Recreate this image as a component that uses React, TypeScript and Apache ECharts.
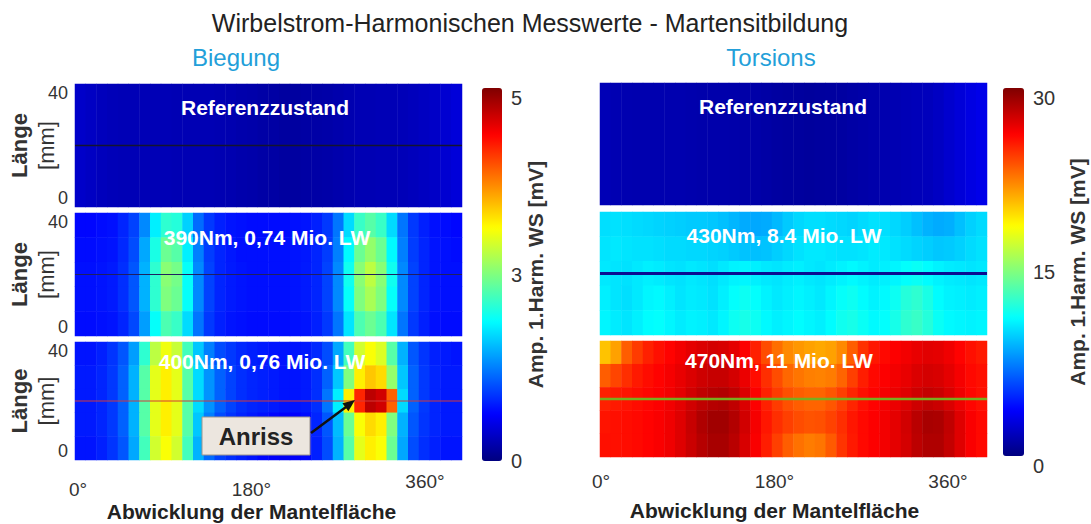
import React, { useEffect, useRef } from 'react';
import * as echarts from 'echarts';

// ---------- data ----------
const ANGLE_CELLS = [5, 15, 25, 35, 45, 55, 65, 75, 85, 95, 105, 115, 125, 135, 145, 155, 165, 175, 185, 195, 205, 215, 225, 235, 245, 255, 265, 275, 285, 295, 305, 315, 325, 335, 345, 355];
const LENGTH_CELLS = [4, 12, 20, 28, 36]; // mm, bottom -> top
const REF_CELLS = [20];
const X_TICKS = [0, 180, 360];

// rows listed top (40 mm) -> bottom (0 mm)
const LEFT_REF = [
  [0.36, 0.33, 0.3, 0.28, 0.27, 0.27, 0.27, 0.27, 0.27, 0.26, 0.26, 0.26, 0.26, 0.25, 0.24, 0.22, 0.21, 0.19, 0.18, 0.16, 0.16, 0.18, 0.19, 0.2, 0.22, 0.24, 0.26, 0.26, 0.27, 0.27, 0.28, 0.3, 0.32, 0.35, 0.4, 0.44],
];
const LEFT_390 = [
  [0.65, 0.65, 0.68, 0.7, 0.8, 0.95, 1.3, 1.8, 2.1, 2.05, 1.65, 1.15, 0.9, 0.78, 0.72, 0.7, 0.68, 0.68, 0.68, 0.68, 0.7, 0.72, 0.78, 0.9, 1.2, 1.7, 2.15, 2.3, 2.15, 1.7, 1.2, 0.9, 0.78, 0.7, 0.68, 0.65],
  [0.68, 0.68, 0.7, 0.72, 0.82, 1.0, 1.45, 2.0, 2.4, 2.3, 1.8, 1.25, 0.92, 0.8, 0.74, 0.7, 0.7, 0.7, 0.7, 0.7, 0.72, 0.74, 0.8, 0.92, 1.25, 1.85, 2.4, 2.6, 2.4, 1.85, 1.25, 0.92, 0.8, 0.72, 0.7, 0.68],
  [0.7, 0.7, 0.72, 0.75, 0.85, 1.05, 1.5, 2.1, 2.55, 2.45, 1.9, 1.3, 0.95, 0.8, 0.75, 0.72, 0.7, 0.7, 0.7, 0.7, 0.72, 0.75, 0.8, 0.95, 1.3, 1.95, 2.55, 2.8, 2.55, 1.95, 1.3, 0.95, 0.8, 0.72, 0.7, 0.7],
  [0.7, 0.7, 0.72, 0.75, 0.85, 1.05, 1.5, 2.1, 2.5, 2.4, 1.9, 1.3, 0.95, 0.8, 0.75, 0.72, 0.7, 0.7, 0.7, 0.7, 0.72, 0.75, 0.8, 0.95, 1.3, 1.9, 2.5, 2.7, 2.5, 1.9, 1.3, 0.95, 0.8, 0.72, 0.7, 0.7],
  [0.68, 0.68, 0.7, 0.72, 0.8, 0.98, 1.4, 1.9, 2.25, 2.15, 1.7, 1.2, 0.9, 0.78, 0.72, 0.7, 0.68, 0.68, 0.68, 0.68, 0.7, 0.72, 0.78, 0.9, 1.2, 1.75, 2.25, 2.4, 2.25, 1.75, 1.2, 0.9, 0.78, 0.7, 0.68, 0.68],
];
const LEFT_400 = [
  [0.72, 0.72, 0.78, 0.88, 1.05, 1.4, 2.1, 2.8, 3.05, 2.85, 2.2, 1.6, 1.25, 1.0, 0.9, 0.82, 0.78, 0.75, 0.72, 0.72, 0.72, 0.75, 0.82, 1.0, 1.45, 2.2, 2.9, 3.1, 2.95, 2.3, 1.5, 1.05, 0.88, 0.78, 0.75, 0.72],
  [0.75, 0.75, 0.8, 0.9, 1.1, 1.5, 2.3, 3.0, 3.2, 3.0, 2.3, 1.7, 1.35, 1.1, 0.95, 0.85, 0.8, 0.78, 0.75, 0.72, 0.72, 0.75, 0.85, 1.1, 1.6, 2.5, 3.2, 3.4, 3.3, 2.6, 1.6, 1.1, 0.9, 0.8, 0.75, 0.75],
  [0.75, 0.75, 0.8, 0.9, 1.1, 1.5, 2.3, 3.0, 3.2, 3.0, 2.3, 1.7, 1.35, 1.1, 0.95, 0.85, 0.8, 0.78, 0.75, 0.72, 0.72, 0.75, 0.85, 1.2, 1.8, 3.2, 4.2, 4.7, 4.6, 3.9, 1.7, 1.1, 0.9, 0.8, 0.75, 0.75],
  [0.75, 0.75, 0.8, 0.9, 1.1, 1.5, 2.3, 3.0, 3.2, 3.0, 2.3, 1.6, 1.25, 1.0, 0.88, 0.8, 0.75, 0.7, 0.65, 0.62, 0.62, 0.68, 0.8, 1.05, 1.55, 2.4, 3.1, 3.3, 3.2, 2.5, 1.5, 1.05, 0.88, 0.8, 0.75, 0.75],
  [0.72, 0.72, 0.78, 0.88, 1.05, 1.45, 2.2, 2.9, 3.1, 2.9, 2.2, 1.5, 1.15, 0.95, 0.85, 0.78, 0.72, 0.65, 0.6, 0.58, 0.6, 0.65, 0.78, 1.0, 1.5, 2.3, 3.0, 3.2, 3.1, 2.4, 1.45, 1.0, 0.85, 0.78, 0.72, 0.72],
];
const RIGHT_REF = [
  [1.6, 1.5, 1.45, 1.4, 1.4, 1.4, 1.4, 1.4, 1.35, 1.3, 1.3, 1.3, 1.25, 1.2, 1.2, 1.1, 1.0, 0.95, 0.9, 0.85, 0.9, 0.95, 1.0, 1.1, 1.2, 1.3, 1.4, 1.5, 1.6, 1.7, 1.8, 2.0, 2.3, 2.6, 2.9, 3.1],
];
const RIGHT_430 = [
  [10.3, 10.4, 10.3, 10.2, 10.1, 10.0, 9.9, 9.8, 9.7, 9.7, 9.6, 9.4, 9.1, 8.8, 8.7, 8.8, 9.2, 9.7, 10.1, 10.3, 10.3, 10.2, 10.1, 10.0, 10.2, 10.4, 10.3, 10.1, 9.8, 9.4, 9.0, 8.8, 8.9, 9.4, 9.9, 10.2],
  [10.5, 10.6, 10.5, 10.4, 10.4, 10.3, 10.2, 10.2, 10.1, 10.1, 10.0, 9.9, 9.7, 9.5, 9.4, 9.5, 9.8, 10.1, 10.4, 10.6, 10.6, 10.5, 10.4, 10.4, 10.5, 10.7, 10.6, 10.4, 10.2, 10.0, 9.8, 9.6, 9.7, 9.9, 10.2, 10.4],
  [10.6, 10.5, 10.4, 10.6, 10.8, 10.7, 10.5, 10.4, 10.6, 10.5, 10.3, 10.6, 10.9, 11.0, 10.8, 10.6, 10.5, 10.7, 10.8, 10.6, 10.5, 10.7, 10.9, 11.1, 10.9, 10.7, 10.8, 11.0, 11.3, 11.5, 11.2, 10.9, 10.7, 10.6, 10.5, 10.6],
  [10.8, 10.5, 10.3, 10.6, 11.0, 11.1, 10.8, 10.5, 10.7, 10.6, 10.4, 10.8, 11.3, 11.6, 11.3, 10.9, 10.6, 10.8, 11.0, 10.8, 10.6, 11.0, 11.4, 11.6, 11.2, 10.9, 11.1, 11.6, 12.3, 12.6, 12.0, 11.2, 10.9, 10.8, 10.7, 10.8],
  [11.0, 10.7, 10.5, 10.8, 11.2, 11.3, 11.0, 10.7, 10.9, 10.8, 10.6, 11.0, 11.6, 11.9, 11.6, 11.1, 10.8, 11.0, 11.2, 11.0, 10.8, 11.2, 11.7, 11.9, 11.5, 11.1, 11.3, 11.9, 12.6, 12.9, 12.3, 11.5, 11.1, 11.0, 10.9, 11.0],
];
const RIGHT_470 = [
  [20.5, 21.5, 23.5, 24.5, 25.3, 25.8, 26.2, 26.6, 27.0, 27.3, 27.5, 27.4, 27.0, 26.3, 25.3, 24.0, 23.0, 22.2, 21.8, 21.5, 21.3, 21.5, 22.2, 23.5, 24.8, 25.6, 26.0, 26.3, 26.6, 26.9, 27.1, 27.0, 26.7, 26.2, 25.8, 25.5],
  [23.5, 24.2, 24.9, 25.5, 25.9, 26.2, 26.5, 26.9, 27.3, 27.7, 27.9, 27.9, 27.5, 26.8, 25.9, 24.9, 24.0, 23.2, 22.8, 22.5, 22.4, 22.6, 23.3, 24.4, 25.4, 26.0, 26.3, 26.6, 26.9, 27.3, 27.5, 27.4, 27.0, 26.5, 26.0, 25.8],
  [25.3, 25.5, 25.7, 25.9, 26.1, 26.3, 26.6, 27.0, 27.6, 28.1, 28.4, 28.5, 28.1, 27.3, 26.3, 25.3, 24.5, 23.9, 23.5, 23.3, 23.3, 23.7, 24.4, 25.2, 25.8, 26.2, 26.5, 26.8, 27.2, 27.7, 28.0, 27.8, 27.3, 26.7, 26.1, 25.8],
  [25.7, 25.8, 25.9, 26.0, 26.2, 26.4, 26.7, 27.2, 27.9, 28.6, 29.0, 29.0, 28.5, 27.6, 26.5, 25.6, 24.9, 24.4, 24.0, 23.8, 23.9, 24.3, 24.9, 25.6, 26.0, 26.3, 26.6, 27.0, 27.6, 28.3, 28.8, 28.7, 28.1, 27.2, 26.4, 26.0],
  [25.8, 25.8, 25.9, 26.0, 26.2, 26.4, 26.7, 27.2, 27.8, 28.4, 28.8, 28.8, 28.3, 27.4, 26.4, 25.4, 24.4, 23.5, 22.9, 22.6, 22.8, 23.6, 24.7, 25.5, 26.0, 26.3, 26.6, 27.0, 27.5, 28.2, 28.6, 28.6, 28.0, 27.2, 26.4, 26.0],
];
const CRACK_LEVEL = [[0, 20], [360, 20]]; // measurement track at 20 mm

const LEFT_RANGE = [0, 5];
const RIGHT_RANGE = [0, 30];

const TITLE = 'Wirbelstrom-Harmonischen Messwerte - Martensitbildung';
const PANEL_LABELS = ['Referenzzustand', '390Nm, 0,74 Mio. LW', '400Nm, 0,76 Mio. LW', 'Referenzzustand', '430Nm, 8.4 Mio. LW', '470Nm, 11 Mio. LW'];

// ---------- style / layout ----------
const F = "'Liberation Sans', Arial, Helvetica, sans-serif";
const JET = ['#00007F', '#0000FF', '#007FFF', '#00FFFF', '#7FFF7F', '#FFFF00', '#FF7F00', '#FF0000', '#7F0000'];

const PANELS = [
  { left: 75, top: 84, width: 387, height: 123, rows: LEFT_REF, ycats: REF_CELLS, side: 'left', line: { color: '#141430', width: 1.5 }, label: { x: 265, y: 107 } },
  { left: 75, top: 213, width: 387, height: 123, rows: LEFT_390, ycats: LENGTH_CELLS, side: 'left', line: { color: '#202060', width: 1 }, label: { x: 267, y: 237 } },
  { left: 75, top: 342, width: 387, height: 118, rows: LEFT_400, ycats: LENGTH_CELLS, side: 'left', line: { color: '#d03a3a', width: 1 }, label: { x: 262, y: 361 } },
  { left: 600, top: 83, width: 387, height: 122, rows: RIGHT_REF, ycats: REF_CELLS, side: 'right', line: null, label: { x: 783, y: 106 } },
  { left: 600, top: 212, width: 387, height: 123, rows: RIGHT_430, ycats: LENGTH_CELLS, side: 'right', line: { color: '#0c0c90', width: 3 }, label: { x: 784, y: 235 } },
  { left: 600, top: 341, width: 387, height: 116, rows: RIGHT_470, ycats: LENGTH_CELLS, side: 'right', line: { color: '#7aae1e', width: 2.5 }, label: { x: 779, y: 360 } },
];

function toCells(rows: number[][]) {
  const out: number[][] = [];
  const n = rows.length;
  rows.forEach((row, r) => row.forEach((v, c) => out.push([c, n - 1 - r, v])));
  return out;
}

function makeGrid(left: number, top: number, width: number, height: number) {
  return { left, top, width, height, show: false, containLabel: false, outerBoundsMode: 'none' };
}

function buildOption() {
  const grid: any[] = [];
  const xAxis: any[] = [];
  const yAxis: any[] = [];
  const series: any[] = [];
  const lines: any[] = [];

  PANELS.forEach((p, g) => {
    grid.push(makeGrid(p.left, p.top, p.width, p.height));
    xAxis.push({ type: 'category', gridIndex: g, data: ANGLE_CELLS.map(String), show: false });
    xAxis.push({ type: 'value', gridIndex: g, min: 0, max: 360, show: false });
    yAxis.push({ type: 'category', gridIndex: g, data: p.ycats.map(String), show: false });
    yAxis.push({
      type: 'value', gridIndex: g, min: 0, max: 40, interval: 40, position: 'left',
      show: p.side === 'left',
      axisLine: { show: false }, axisTick: { show: false }, splitLine: { show: false },
      axisLabel: { fontSize: 18, color: '#333', fontFamily: F, margin: 7, verticalAlignMaxLabel: 'top', verticalAlignMinLabel: 'bottom' },
      name: p.side === 'left' ? '{b|Länge}\n{n|[mm]}' : '',
      nameLocation: 'middle', nameRotate: 90, nameGap: 15, nameMoveOverlap: false,
      nameTextStyle: {
        fontFamily: F, color: '#333', lineHeight: 27,
        rich: {
          b: { fontSize: 22, fontWeight: 'bold', color: '#333', fontFamily: F, lineHeight: 27 },
          n: { fontSize: 22, color: '#333', fontFamily: F, lineHeight: 27 },
        },
      },
    });
    series.push({ type: 'heatmap', xAxisIndex: 2 * g, yAxisIndex: 2 * g, data: toCells(p.rows), silent: true, itemStyle: { borderWidth: 0 } });
    if (p.line) {
      lines.push({
        type: 'line', xAxisIndex: 2 * g + 1, yAxisIndex: 2 * g + 1, data: CRACK_LEVEL, symbol: 'none', silent: true,
        lineStyle: { color: p.line.color, width: p.line.width },
      });
    }
  });

  // colour bars (grids 6, 7)
  const bars = [
    { left: 482, top: 88, width: 20, height: 373, range: LEFT_RANGE, nameGap: 23, minAlign: 'middle' },
    { left: 1003, top: 88, width: 21, height: 368, range: RIGHT_RANGE, nameGap: 43, minAlign: 'top' },
  ];
  bars.forEach((b) => {
    const g = grid.length;
    grid.push(makeGrid(b.left, b.top, b.width, b.height));
    xAxis.push({ type: 'category', gridIndex: g, data: ['c'], show: false });
    yAxis.push({
      type: 'value', gridIndex: g, position: 'right', min: b.range[0], max: b.range[1], interval: (b.range[1] - b.range[0]) / 2,
      axisLine: { show: false }, axisTick: { show: false }, splitLine: { show: false },
      axisLabel: {
        fontSize: 20, color: '#333', fontFamily: F, margin: 9,
        formatter: (v: number) => String(Math.round(v)),
        verticalAlignMaxLabel: 'top', verticalAlignMinLabel: b.minAlign,
      },
      name: 'Amp. 1.Harm. WS [mV]', nameLocation: 'middle', nameRotate: 90, nameGap: b.nameGap, nameMoveOverlap: false,
      nameTextStyle: { fontSize: 21, fontWeight: 'bold', color: '#333', fontFamily: F },
    });
  });

  // angle label axes (grids 8, 9)
  const angleAxes = [
    { left: 78, top: 100, width: 347, height: 362, margin: 10, raise360: true, nameGap: 39 },
    { left: 601, top: 100, width: 347, height: 357, margin: 15, raise360: false, nameGap: 43 },
  ];
  angleAxes.forEach((a) => {
    const g = grid.length;
    grid.push(makeGrid(a.left, a.top, a.width, a.height));
    xAxis.push({
      type: 'value', gridIndex: g, min: X_TICKS[0], max: X_TICKS[X_TICKS.length - 1], interval: X_TICKS[1] - X_TICKS[0],
      axisLine: { show: false }, axisTick: { show: false }, splitLine: { show: false },
      axisLabel: {
        fontSize: 19, color: '#333', fontFamily: F, margin: a.margin,
        formatter: (v: number) => (a.raise360 && v !== 360 ? `{d|${v}°}` : `{u|${v}°}`),
        rich: {
          d: { fontSize: 19, color: '#333', fontFamily: F, padding: [8, 0, 0, 0] },
          u: { fontSize: 19, color: '#333', fontFamily: F },
        },
      },
      name: 'Abwicklung der Mantelfläche', nameLocation: 'middle', nameGap: a.nameGap, nameMoveOverlap: false,
      nameTextStyle: { fontSize: 21, fontWeight: 'bold', color: '#222', fontFamily: F },
    });
    yAxis.push({ type: 'value', gridIndex: g, show: false, min: 0, max: 1 });
  });

  const graphic: any[] = [
    { type: 'text', x: 530, y: 23, style: { text: TITLE, fontSize: 25, fontFamily: F, fill: '#222', align: 'center', verticalAlign: 'middle' } },
    { type: 'text', x: 236, y: 57, style: { text: 'Biegung', fontSize: 24, fontFamily: F, fill: '#239fd9', align: 'center', verticalAlign: 'middle' } },
    { type: 'text', x: 771, y: 57, style: { text: 'Torsions', fontSize: 24, fontFamily: F, fill: '#239fd9', align: 'center', verticalAlign: 'middle' } },
  ];
  PANELS.forEach((p, i) => {
    graphic.push({
      type: 'text', x: p.label.x, y: p.label.y, z: 100,
      style: { text: PANEL_LABELS[i], fontSize: 21, fontWeight: 'bold', fontFamily: F, fill: '#ffffff', align: 'center', verticalAlign: 'middle' },
    });
  });
  // "Anriss" callout
  graphic.push(
    { type: 'rect', z: 100, shape: { x: 202, y: 417, width: 108, height: 38 }, style: { fill: '#ece6df', stroke: '#9c958e', lineWidth: 1 } },
    { type: 'text', z: 101, x: 256, y: 436, style: { text: 'Anriss', fontSize: 24, fontWeight: 'bold', fontFamily: F, fill: '#222', align: 'center', verticalAlign: 'middle' } },
    { type: 'line', z: 100, shape: { x1: 311, y1: 433, x2: 346, y2: 407 }, style: { stroke: '#111', lineWidth: 2.5 } },
    { type: 'polygon', z: 100, shape: { points: [[355, 400], [348.4, 411.2], [342.4, 403.2]] }, style: { fill: '#111' } },
  );

  return {
    animation: false,
    backgroundColor: '#ffffff',
    textStyle: { fontFamily: F },
    grid, xAxis, yAxis,
    visualMap: [
      {
        type: 'continuous', seriesIndex: [0, 1, 2], min: LEFT_RANGE[0], max: LEFT_RANGE[1], calculable: false, hoverLink: false,
        orient: 'vertical', left: 482, top: 88, itemWidth: 20, itemHeight: 373, padding: 0, inRange: { color: JET },
      },
      {
        type: 'continuous', seriesIndex: [3, 4, 5], min: RIGHT_RANGE[0], max: RIGHT_RANGE[1], calculable: false, hoverLink: false,
        orient: 'vertical', left: 1003, top: 88, itemWidth: 21, itemHeight: 368, padding: 0, inRange: { color: JET },
      },
    ],
    series: [...series, ...lines],
    graphic,
  };
}

export default function App() {
  const ref = useRef<HTMLDivElement>(null);
  useEffect(() => {
    const chart = echarts.init(ref.current as HTMLDivElement, null, { renderer: 'svg' });
    chart.setOption(buildOption() as any);
    return () => chart.dispose();
  }, []);
  return <div ref={ref} style={{ position: 'fixed', left: 0, top: 0, width: 1091, height: 524, background: '#fff' }} />;
}
